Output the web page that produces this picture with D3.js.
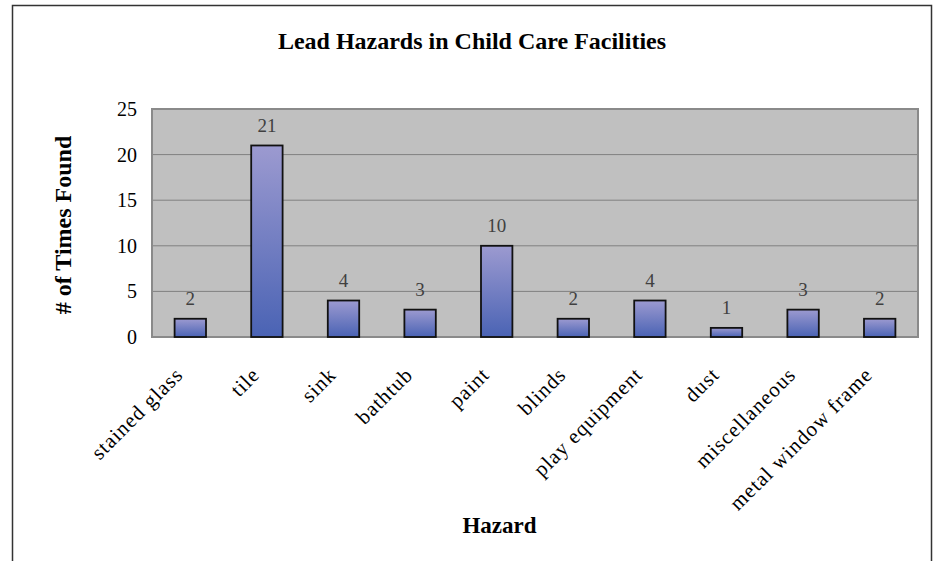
<!DOCTYPE html>
<html>
<head>
<meta charset="utf-8">
<script src="https://cdn.jsdelivr.net/npm/d3@7"></script>
<style>
  body { margin: 0; background: #fff; }
  text { font-family: "Liberation Serif", "Times New Roman", serif; }
</style>
</head>
<body>
<svg id="chart" width="935" height="561"></svg>
<script>

var hazards = ["stained glass", "tile", "sink", "bathtub", "paint", "blinds",
  "play equipment", "dust", "miscellaneous", "metal window frame"];
var timesFound = [2, 21, 4, 3, 10, 2, 4, 1, 3, 2];
var yTicks = [0, 5, 10, 15, 20, 25];

var svg = d3.select('#chart');

var plotLeft = 152;
var plotRight = 918;
var plotTop = 109;
var plotBottom = 337;

var x = d3.scaleBand()
  .domain(hazards)
  .range([plotLeft, plotRight])
  .paddingInner(0.59)
  .paddingOuter(0.295);

var y = d3.scaleLinear()
  .domain([0, 25])
  .range([plotBottom, plotTop]);

// bar gradient, lavender on top to blue at the bottom
var grad = svg.append('defs').append('linearGradient')
  .attr('id', 'barFill')
  .attr('x1', 0).attr('y1', 0)
  .attr('x2', 0).attr('y2', 1);
grad.append('stop').attr('offset', '0%').attr('stop-color', '#9c9ad0');
grad.append('stop').attr('offset', '100%').attr('stop-color', '#4a63b4');

// outer frame (runs off the bottom of the picture)
svg.append('rect')
  .attr('x', 12.5)
  .attr('y', 5.5)
  .attr('width', 919)
  .attr('height', 620)
  .attr('fill', 'none')
  .attr('stroke', '#333')
  .attr('stroke-width', 1.5);

svg.append('text')
  .attr('x', 472)
  .attr('y', 49)
  .attr('text-anchor', 'middle')
  .attr('font-size', 24)
  .attr('font-weight', 'bold')
  .text('Lead Hazards in Child Care Facilities');

// plot area
svg.append('rect')
  .attr('x', plotLeft)
  .attr('y', plotTop)
  .attr('width', plotRight - plotLeft)
  .attr('height', plotBottom - plotTop)
  .attr('fill', '#c0c0c0');

var yAxis = d3.axisLeft(y)
  .tickValues(yTicks)
  .tickSize(0)
  .tickPadding(15);

var yg = svg.append('g')
  .attr('transform', 'translate(' + plotLeft + ',0)')
  .call(yAxis);
yg.select('.domain').remove();
yg.selectAll('text')
  .attr('font-size', 20)
  .attr('fill', '#000')
  .style('font-family', '"Liberation Serif", serif');

// gridlines
svg.append('g').selectAll('line')
  .data(yTicks.filter(function(t){ return t > 0 && t < 25; }))
  .enter().append('line')
  .attr('x1', plotLeft)
  .attr('x2', plotRight)
  .attr('y1', function(d){ return y(d); })
  .attr('y2', function(d){ return y(d); })
  .attr('stroke', '#808080')
  .attr('stroke-width', 1);

svg.append('rect')
  .attr('x', plotLeft)
  .attr('y', plotTop)
  .attr('width', plotRight - plotLeft)
  .attr('height', plotBottom - plotTop)
  .attr('fill', 'none')
  .attr('stroke', '#8a8a8a')
  .attr('stroke-width', 2);

// bars
svg.append('g').selectAll('rect')
  .data(timesFound)
  .enter().append('rect')
  .attr('x', function(d, i){ return x(hazards[i]); })
  .attr('y', function(d){ return y(d); })
  .attr('width', x.bandwidth())
  .attr('height', function(d){ return y(0) - y(d); })
  .attr('fill', 'url(#barFill)')
  .attr('stroke', '#111')
  .attr('stroke-width', 1.8);

// value labels
svg.append('g').selectAll('text')
  .data(timesFound)
  .enter().append('text')
  .attr('x', function(d, i){ return x(hazards[i]) + x.bandwidth() / 2; })
  .attr('y', function(d){ return y(d) - 13.5; })
  .attr('text-anchor', 'middle')
  .attr('font-size', 19)
  .attr('fill', '#404040')
  .text(function(d){ return d; });

// rotated category labels
svg.append('g').selectAll('text')
  .data(hazards)
  .enter().append('text')
  .attr('text-anchor', 'end')
  .attr('font-size', 21)
  .attr('letter-spacing', 1)
  .attr('transform', function(d){
    var cx = x(d) + x.bandwidth() / 2 - 6;
    return 'translate(' + cx + ',376) rotate(-45)';
  })
  .text(function(d){ return d; });

svg.append('text')
  .attr('x', 499.5)
  .attr('y', 533)
  .attr('text-anchor', 'middle')
  .attr('font-size', 23)
  .attr('font-weight', 'bold')
  .text('Hazard');

svg.append('text')
  .attr('transform', 'translate(71,225) rotate(-90)')
  .attr('text-anchor', 'middle')
  .attr('font-size', 24)
  .attr('font-weight', 'bold')
  .text('# of Times Found');

</script>
</body>
</html>
